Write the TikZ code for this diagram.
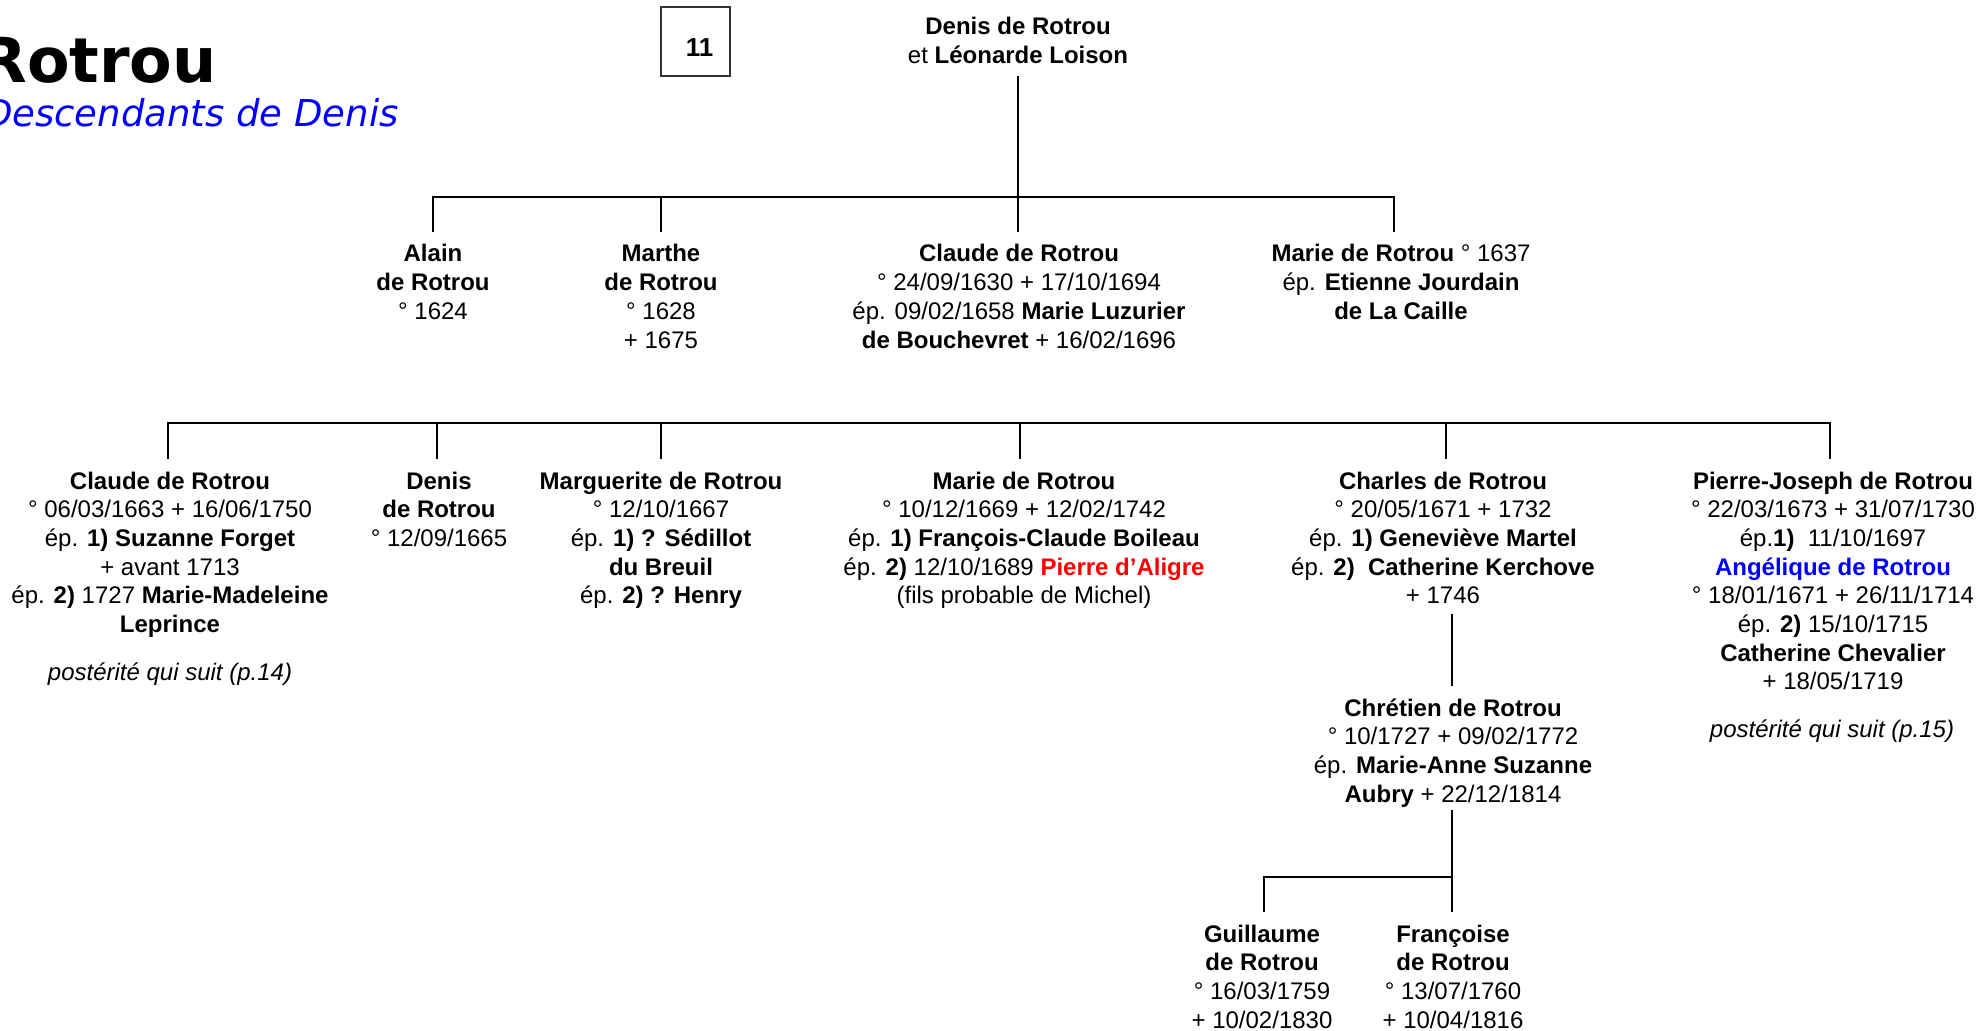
\documentclass[tikz,border=0pt]{standalone}
\usepackage{fontspec}
\setmainfont{Liberation Sans}
\newfontfamily\dejavu{DejaVu Sans}
\definecolor{pblue}{RGB}{0,0,255}
\definecolor{pred}{RGB}{255,0,0}
\newcommand\firststrut{\rule{0pt}{10pt}}
\begin{document}
\begin{tikzpicture}[x=0.5pt,y=-0.5pt,
  pers/.style={align=center, anchor=north, inner sep=0pt, outer sep=5pt,
    font=\fontsize{12}{14.35}\selectfont},
  note/.style={pers, font=\itshape\fontsize{12}{14.35}\selectfont},
  ln/.style={line width=1.15pt},
]
\useasboundingbox (0,0) rectangle (1984,1031);

% title
\node[anchor=base east, inner sep=0pt, font=\dejavu\bfseries\fontsize{31}{37}\selectfont] (title) at (217,83) {Rotrou};
\node[anchor=base east, inner sep=0pt, text=pblue, font=\dejavu\itshape\fontsize{18.5}{22}\selectfont] (sub) at (399,127) {Descendants de Denis};
\node[draw=black!80, line width=0.7pt, minimum width=34.5pt, minimum height=34.5pt, inner sep=0pt,
  text height=15.3pt, text depth=0pt,
  font=\bfseries\fontsize{13}{15}\selectfont] (num) at (695.5,41.5) {\hspace*{4pt}11};

% generation 1
\node[pers] (root) at (1018,5) {\firststrut\textbf{Denis de Rotrou}\\et \textbf{Léonarde Loison}};

% generation 2
\node[pers] (alain) at (433,232) {\firststrut\textbf{Alain}\\\textbf{de Rotrou}\\° 1624};
\node[pers] (marthe) at (661,232) {\firststrut\textbf{Marthe}\\\textbf{de Rotrou}\\° 1628\\+ 1675};
\node[pers] (claude2) at (1019,232) {\firststrut\textbf{Claude de Rotrou}\\° 24/09/1630 + 17/10/1694\\ép. 09/02/1658 \textbf{Marie Luzurier}\\\textbf{de Bouchevret} + 16/02/1696};
\node[pers] (marie2) at (1401,232) {\firststrut\textbf{Marie de Rotrou} ° 1637\\ép. \textbf{Etienne Jourdain}\\\textbf{de La Caille}};

% generation 3
\node[pers] (claude3) at (170,459) {\firststrut\textbf{Claude de Rotrou}\\° 06/03/1663 + 16/06/1750\\ép. \textbf{1) Suzanne Forget}\\+ avant 1713\\ép. \textbf{2)} 1727 \textbf{Marie-Madeleine}\\\textbf{Leprince}};
\node[note] (post14) at (170,650) {\firststrut postérité qui suit (p.14)};
\node[pers] (denis3) at (439,459) {\firststrut\textbf{Denis}\\\textbf{de Rotrou}\\° 12/09/1665};
\node[pers] (marg) at (661,459) {\firststrut\textbf{Marguerite de Rotrou}\\° 12/10/1667\\ép. \textbf{1) ? Sédillot}\\\textbf{du Breuil}\\ép. \textbf{2) ? Henry}};
\node[pers] (marie3) at (1024,459) {\firststrut\textbf{Marie de Rotrou}\\° 10/12/1669 + 12/02/1742\\ép. \textbf{1) François-Claude Boileau}\\ép. \textbf{2)} 12/10/1689 \textcolor{pred}{\textbf{Pierre d’Aligre}}\\(fils probable de Michel)};
\node[pers] (charles) at (1443,459) {\firststrut\textbf{Charles de Rotrou}\\° 20/05/1671 + 1732\\ép. \textbf{1) Geneviève Martel}\\ép. \textbf{2)}\ \ \textbf{Catherine Kerchove}\\+ 1746};
\node[pers] (pierre) at (1833,459) {\firststrut\textbf{Pierre-Joseph de Rotrou}\\° 22/03/1673 + 31/07/1730\\ép.\textbf{1)}\ \ 11/10/1697\\\textcolor{pblue}{\textbf{Angélique de Rotrou}}\\° 18/01/1671 + 26/11/1714\\ép. \textbf{2)} 15/10/1715\\\textbf{Catherine Chevalier}\\+ 18/05/1719};
\node[note] (post15) at (1832,707) {\firststrut postérité qui suit (p.15)};

% generation 4 and 5
\node[pers] (chretien) at (1453,686) {\firststrut\textbf{Chrétien de Rotrou}\\° 10/1727 + 09/02/1772\\ép. \textbf{Marie-Anne Suzanne}\\\textbf{Aubry} + 22/12/1814};
\node[pers] (guillaume) at (1262,912) {\firststrut\textbf{Guillaume}\\\textbf{de Rotrou}\\° 16/03/1759\\+ 10/02/1830};
\node[pers] (francoise) at (1453,912) {\firststrut\textbf{Françoise}\\\textbf{de Rotrou}\\° 13/07/1760\\+ 10/04/1816};

% connectors
\coordinate (rootend) at (1018,76);
\coordinate (b1a) at (433,197);
\coordinate (b1b) at (661,197);
\coordinate (b1d) at (1394,197);
\draw[ln] (b1a |- alain.north) -- (b1a) -- (b1d) -- (b1d |- marie2.north);
\draw[ln] (b1b) -- (b1b |- marthe.north);
\draw[ln] (rootend) -- (rootend |- claude2.north);

\coordinate (b2a) at (168,423);
\coordinate (b2b) at (437,423);
\coordinate (b2c) at (661,423);
\coordinate (b2d) at (1020,423);
\coordinate (b2e) at (1446,423);
\coordinate (b2f) at (1830,423);
\draw[ln] (b2a |- claude3.north) -- (b2a) -- (b2f) -- (b2f |- pierre.north);
\draw[ln] (b2b) -- (b2b |- denis3.north);
\draw[ln] (b2c) -- (b2c |- marg.north);
\draw[ln] (b2d) -- (b2d |- marie3.north);
\draw[ln] (b2e) -- (b2e |- charles.north);

\coordinate (cc) at (1452,614);
\draw[ln] (cc) -- (cc |- chretien.north);
\coordinate (ch) at (1452,810);
\coordinate (b3a) at (1264,877);
\draw[ln] (ch) -- (ch |- francoise.north);
\draw[ln] (b3a |- guillaume.north) -- (b3a) -- (b3a -| ch);
\end{tikzpicture}
\end{document}
